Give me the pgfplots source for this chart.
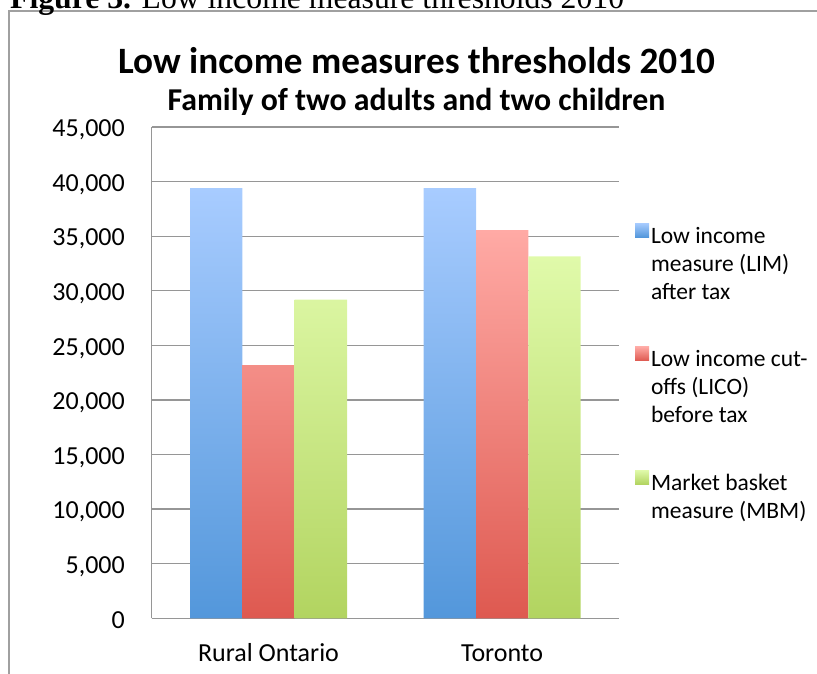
\documentclass[border=0pt]{standalone}
\usepackage{pgfplots}
\pgfplotsset{compat=1.18}
\usepackage{fontspec}
\setmainfont{Carlito}
\newfontfamily\capfont{Liberation Serif}
\definecolor{gridgray}{RGB}{150,150,150}
\definecolor{framegray}{RGB}{160,160,160}
\definecolor{limTop}{RGB}{168,204,255}
\definecolor{limBot}{RGB}{83,151,219}
\definecolor{licoTop}{RGB}{255,170,165}
\definecolor{licoBot}{RGB}{222,89,80}
\definecolor{mbmTop}{RGB}{224,250,170}
\definecolor{mbmBot}{RGB}{178,212,96}
\begin{document}
\begin{tikzpicture}[x=1pt,y=1pt]
\useasboundingbox (0,0) rectangle (817,-673);
\clip (0,0) rectangle (817,-673);
\draw[framegray, line width=1.5pt] (9,-11) rectangle (850,-720);
\node[anchor=base west, inner sep=0pt, font=\capfont\fontsize{31.7}{38}\selectfont] at (10,-8) {\textbf{Figure 3.} Low income measure thresholds 2010};
\node[anchor=base, inner sep=0pt, font=\bfseries\fontsize{37.2}{44}\selectfont] at (416.5,-73) {Low income measures thresholds 2010};
\node[anchor=base, inner sep=0pt, font=\bfseries\fontsize{31.8}{38}\selectfont] at (416.5,-110) {Family of two adults and two children};
\begin{axis}[
  at={(151.7pt,-618.3pt)}, anchor=south west,
  scale only axis, width=467.3pt, height=491.3pt,
  xmin=-0.5, xmax=1.5, ymin=0, ymax=45000,
  ybar, bar width=0.224,
  scaled y ticks=false,
  /pgf/number format/assume math mode=true,
  /pgf/number format/1000 sep={,},
  xtick={0,1}, xticklabels={Rural Ontario, Toronto},
  ytick={0,5000,...,45000},
  major tick length=0pt,
  separate axis lines,
  axis x line*=bottom, axis y line*=left,
  axis line style={gridgray, line width=1.3pt, -},
  ymajorgrids, major grid style={gridgray, line width=1.3pt},
  tick label style={font=\fontsize{26}{31}\selectfont},
  yticklabel style={anchor=base east, inner sep=0pt, xshift=-26.7pt, yshift=-9.7pt},
  xticklabel style={anchor=base, inner sep=0pt, yshift=-43.4pt},
  legend style={at={(axis description cs:1.0343,0.8045)}, anchor=north west, draw=none, fill=none,
     inner sep=0pt, outer sep=0pt, row sep=102pt, column sep=0pt,
     font=\fontsize{23.5}{28}\selectfont, nodes={inner sep=0pt}},
  legend cell align=left,
  legend image code/.code={\path[#1] (0pt,-3pt) rectangle (14pt,11pt);},
]
\addplot[draw=none, top color=limTop, bottom color=limBot, bar shift=-0.224] coordinates {(0,39400) (1,39400)};
\addlegendentry{\begin{tabular}[t]{@{\hspace{2pt}}l@{}}Low income\\measure (LIM)\\after tax\end{tabular}}
\addplot[draw=none, top color=licoTop, bottom color=licoBot, bar shift=0] coordinates {(0,23200) (1,35550)};
\addlegendentry{\begin{tabular}[t]{@{\hspace{2pt}}l@{}}Low income cut-\\offs (LICO)\\before tax\end{tabular}}
\addplot[draw=none, top color=mbmTop, bottom color=mbmBot, bar shift=0.224] coordinates {(0,29200) (1,33150)};
\addlegendentry{\begin{tabular}[t]{@{\hspace{2pt}}l@{}}Market basket\\measure (MBM)\end{tabular}}
\end{axis}
\end{tikzpicture}
\end{document}
